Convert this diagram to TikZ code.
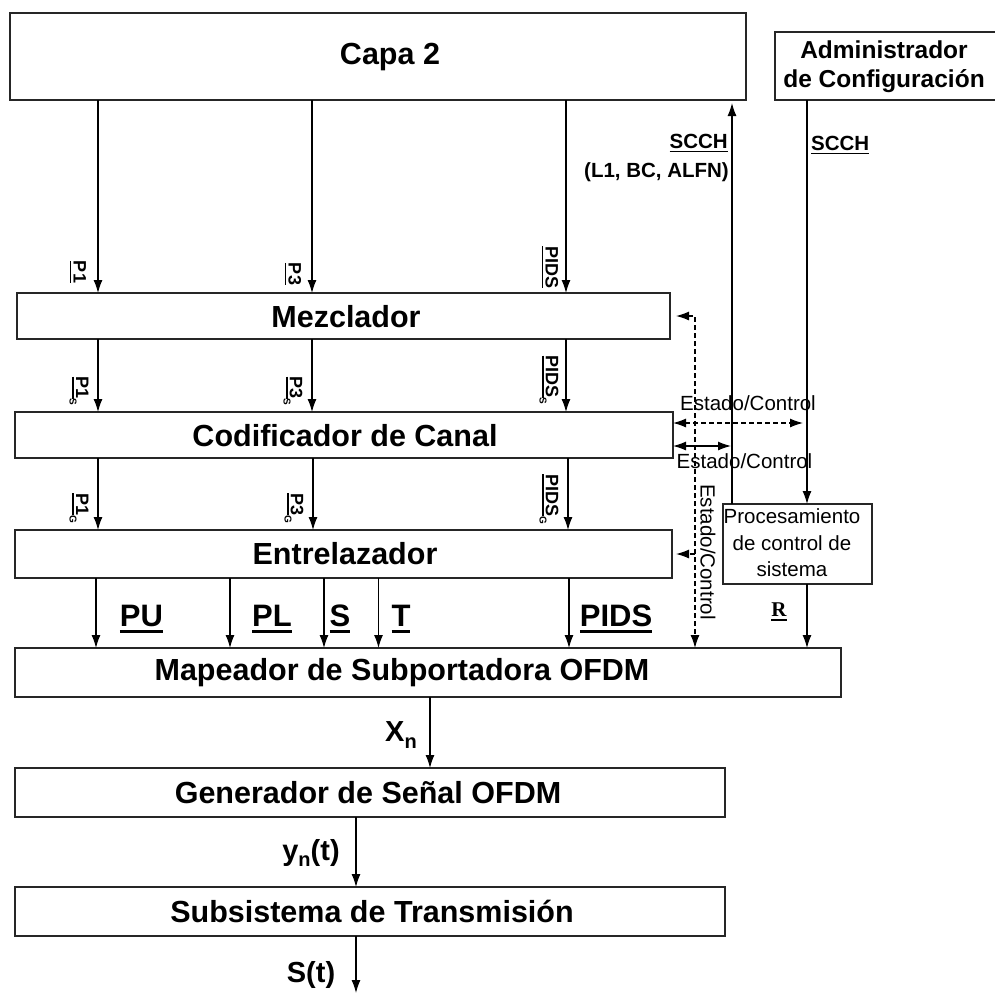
\documentclass[tikz,border=0pt]{standalone}
\usepackage{fontspec}
\setmainfont{Liberation Sans}
\newfontfamily\serifR{Liberation Serif}
\usetikzlibrary{arrows.meta}
\newcommand\ulin[1]{\setbox0=\hbox{#1}\leavevmode\rlap{\vrule width\wd0 height -0.12em depth 0.2em}\box0}
\newcommand\lowsub[1]{\raisebox{-0.35em}{\fontsize{10}{10}\selectfont #1}}
\newcommand\bigsub[1]{\raisebox{-0.22em}{\fontsize{20}{20}\selectfont #1}}
\begin{document}
\begin{tikzpicture}[x=1pt,y=-1pt,
  box/.style={draw=black!85, line width=1.6pt, inner sep=0pt, outer sep=0pt},
  tip/.style={-{Latex[length=13pt,width=9pt]}},
  arr/.style={line width=1.2pt, tip},
  dbl/.style={line width=1.2pt, {Latex[length=13pt,width=9pt]}-{Latex[length=13pt,width=9pt]}},
  dsh/.style={dash pattern=on 5pt off 3pt},
  blk/.style={font=\fontsize{30.5}{36}\selectfont\bfseries, inner sep=0pt},
  rlbl/.style={font=\fontsize{18}{20}\selectfont\bfseries, inner sep=0pt, rotate=-90},
  blbl/.style={font=\fontsize{31}{36}\selectfont\bfseries, inner sep=0pt},
  sig/.style={font=\fontsize{29}{34}\selectfont\bfseries, inner sep=0pt},
  ectl/.style={font=\fontsize{20.5}{24}\selectfont, inner sep=0pt},
  scch/.style={font=\fontsize{20.5}{24}\selectfont\bfseries, inner sep=0pt}]

\useasboundingbox[fill=white] (0,0) rectangle (994,994);

% boxes
\node[box, minimum width=736pt, minimum height=87pt] (capa) at (378,56.5) {};
\node[inner sep=0pt, outer sep=0pt, minimum width=221pt, minimum height=68pt] (admin) at (885.5,66) {};
\draw[draw=black!85, line width=1.6pt] (admin.north east) -- (admin.north west) -- (admin.south west) -- (admin.south east);
\node[box, minimum width=653pt, minimum height=46pt] (mez) at (343.5,316) {};
\node[box, minimum width=658pt, minimum height=46pt] (cod) at (344,435) {};
\node[box, minimum width=657pt, minimum height=48pt] (ent) at (343.5,554) {};
\node[box, minimum width=826pt, minimum height=49pt] (map) at (428,672.5) {};
\node[box, minimum width=710pt, minimum height=49pt] (gen) at (370,792.5) {};
\node[box, minimum width=710pt, minimum height=49pt] (sub) at (370,911.5) {};
\node[box, minimum width=149pt, minimum height=80pt] (proc) at (797.5,544) {};

% box texts
\node[blk] (capaT) at (390,57) {Capa 2};
\node[blk] (mezT) at (346,317) {Mezclador};
\node[blk] (codT) at (345,436) {Codificador de Canal};
\node[blk] (entT) at (345,554) {Entrelazador};
\node[blk] (mapT) at (402,673) {Mapeador de Subportadora OFDM};
\node[blk] (genT) at (368,793) {Generador de Señal OFDM};
\node[blk] (subT) at (372,911) {Subsistema de Transmisión};
\node[font=\fontsize{24.5}{29}\selectfont\bfseries, align=center, inner sep=0pt] (adminT) at (884,67) {Administrador\\de Configuración};
\node[font=\fontsize{20.5}{26.5}\selectfont, align=center, inner sep=0pt] (procT) at (792,543) {Procesamiento\\de control de\\sistema};

% column coordinates
\coordinate (x98) at (98,0);
\coordinate (x312) at (312,0);
\coordinate (x313) at (313,0);
\coordinate (x566) at (566,0);
\coordinate (x568) at (568,0);
\coordinate (x96) at (96,0);
\coordinate (x230) at (230,0);
\coordinate (x324) at (324,0);
\coordinate (x378) at (378.5,0);
\coordinate (x569) at (569,0);
\coordinate (x695) at (695,0);
\coordinate (x732) at (732,0);
\coordinate (x807) at (807,0);
\coordinate (x430) at (430,0);
\coordinate (x356) at (356,0);
\coordinate (sccht) at (732,103);
\coordinate (send) at (356,993);
\coordinate (dmz) at ([xshift=6pt]mez.east);
\coordinate (dent) at ([xshift=4pt]ent.east);
\coordinate (e1) at (803,423);
\coordinate (e2) at (731,446);

% data arrows
\draw[arr] (x98 |- capa.south) -- (x98 |- mez.north);
\draw[arr] (x312 |- capa.south) -- (x312 |- mez.north);
\draw[arr] (x566 |- capa.south) -- (x566 |- mez.north);
\draw[arr] (x98 |- mez.south) -- (x98 |- cod.north);
\draw[arr] (x312 |- mez.south) -- (x312 |- cod.north);
\draw[arr] (x566 |- mez.south) -- (x566 |- cod.north);
\draw[arr] (x98 |- cod.south) -- (x98 |- ent.north);
\draw[arr] (x313 |- cod.south) -- (x313 |- ent.north);
\draw[arr] (x568 |- cod.south) -- (x568 |- ent.north);
\draw[arr] (x96 |- ent.south) -- (x96 |- map.north);
\draw[arr] (x230 |- ent.south) -- (x230 |- map.north);
\draw[arr] (x324 |- ent.south) -- (x324 |- map.north);
\draw[arr] (x378 |- ent.south) -- (x378 |- map.north);
\draw[arr] (x569 |- ent.south) -- (x569 |- map.north);
\draw[arr] (x430 |- map.south) -- (x430 |- gen.north);
\draw[arr] (x356 |- gen.south) -- (x356 |- sub.north);
\draw[arr] (x356 |- sub.south) -- (send);

% control arrows
\draw[arr] (x732 |- proc.north) -- (sccht);
\draw[arr] (x807 |- admin.south) -- (x807 |- proc.north);
\draw[arr] (x807 |- proc.south) -- (x807 |- map.north);
\draw[dbl, dsh] (dmz) -- (x695 |- dmz) -- (x695 |- map.north);
\draw[arr, dsh] (x695 |- dent) -- (dent);
\draw[dbl, dsh] (cod.east |- e1) -- (e1);
\draw[dbl] (cod.east |- e2) -- (e2);

% rotated labels
\node[rlbl] (lP1) at (78,272) {\ulin{P1}};
\node[rlbl] (lP3) at (293,274) {\ulin{P3}};
\node[rlbl] (lPIDS) at (550,267) {\ulin{PIDS}};
\node[rlbl] (lP1s) at (79,391) {\ulin{P1}\lowsub{S}};
\node[rlbl] (lP3s) at (293,391) {\ulin{P3}\lowsub{S}};
\node[rlbl] (lPIDSs) at (549,380) {\ulin{PIDS}\lowsub{S}};
\node[rlbl] (lP1g) at (79,508) {\ulin{P1}\lowsub{G}};
\node[rlbl] (lP3g) at (294,508) {\ulin{P3}\lowsub{G}};
\node[rlbl] (lPIDSg) at (549,499) {\ulin{PIDS}\lowsub{G}};

% bottom labels
\node[blbl] (lPU) at (141.5,619) {\ulin{PU}};
\node[blbl] (lPL) at (272,619) {\ulin{PL}};
\node[blbl] (lS) at (340,619) {\ulin{S}};
\node[blbl] (lT) at (401,619) {\ulin{T}};
\node[blbl] (lPIDS2) at (616,619) {\ulin{PIDS}};

% control labels
\node[scch, anchor=east] (lscch1) at (728,143) {\ulin{SCCH}};
\node[scch, anchor=east] (lalfn) at (729,172) {(L1, BC, ALFN)};
\node[scch, anchor=west] (lscch2) at (811,145) {\ulin{SCCH}};
\node[ectl] (ec1) at (748,403) {Estado/Control};
\node[ectl] (ec2) at (744.5,461) {Estado/Control};
\node[ectl, rotate=-90] (ec3) at (708,552) {Estado/Control};
\node[font=\serifR\fontsize{21}{24}\selectfont\bfseries, inner sep=0pt] (lR) at (779,612) {\ulin{R}};

% signal labels
\node[sig] (lXn) at (401,735) {X\bigsub{n}};
\node[sig] (lyn) at (311,853) {y\bigsub{n}(t)};
\node[sig] (lSt) at (311,975) {S(t)};
\end{tikzpicture}
\end{document}
